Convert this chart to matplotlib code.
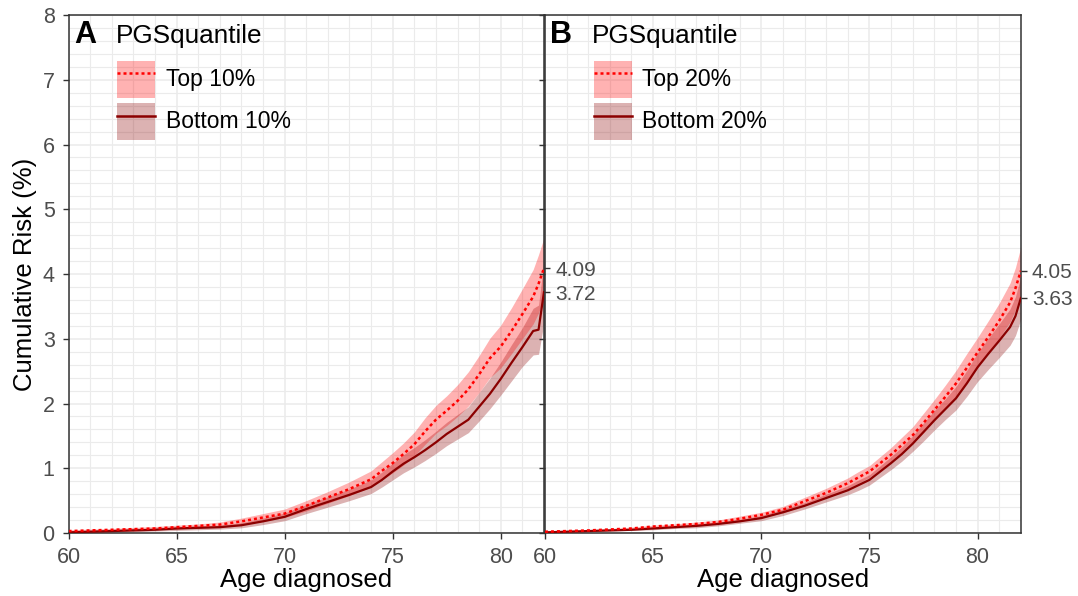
import numpy as np
import matplotlib
matplotlib.use('Agg')
from matplotlib import pyplot as plt
from matplotlib.patches import Patch
from matplotlib.lines import Line2D
from matplotlib.ticker import MultipleLocator

plt.rcParams['font.family'] = ['Liberation Sans', 'DejaVu Sans']

age = [60, 62, 64, 65, 66, 67, 68, 69, 70, 71, 72, 73, 74, 74.5, 75, 75.5, 76,
       76.5, 77, 77.5, 78, 78.5, 79, 79.5, 80, 80.5, 81, 81.5, 81.75, 82]

# panel A: top 10% vs bottom 10%
a_top = [0.03, 0.05, 0.07, 0.09, 0.11, 0.13, 0.18, 0.24, 0.30, 0.42, 0.55, 0.68, 0.83, 0.96, 1.08,
         1.22, 1.37, 1.57, 1.75, 1.89, 2.04, 2.22, 2.45, 2.70, 2.88, 3.12, 3.38, 3.65, 3.85, 4.09]
a_top_lo = [0.01, 0.03, 0.05, 0.06, 0.08, 0.09, 0.13, 0.18, 0.24, 0.34, 0.46, 0.58, 0.71, 0.82, 0.93,
            1.05, 1.19, 1.37, 1.54, 1.66, 1.80, 1.96, 2.17, 2.40, 2.55, 2.77, 3.00, 3.23, 3.40, 3.62]
a_top_hi = [0.05, 0.07, 0.10, 0.12, 0.14, 0.17, 0.23, 0.30, 0.37, 0.50, 0.64, 0.79, 0.96, 1.10, 1.24,
            1.39, 1.56, 1.78, 1.97, 2.12, 2.29, 2.49, 2.74, 3.01, 3.21, 3.48, 3.77, 4.07, 4.30, 4.56]
a_bot = [0.01, 0.03, 0.05, 0.07, 0.08, 0.09, 0.12, 0.18, 0.25, 0.37, 0.48, 0.59, 0.71, 0.82, 0.95,
         1.07, 1.17, 1.28, 1.40, 1.53, 1.64, 1.75, 1.95, 2.15, 2.38, 2.63, 2.87, 3.12, 3.14, 3.72]
a_bot_lo = [0.00, 0.01, 0.03, 0.04, 0.05, 0.06, 0.08, 0.13, 0.19, 0.30, 0.40, 0.50, 0.61, 0.71, 0.82,
            0.93, 1.02, 1.12, 1.23, 1.35, 1.45, 1.55, 1.73, 1.92, 2.13, 2.35, 2.57, 2.75, 2.76, 3.25]
a_bot_hi = [0.03, 0.05, 0.07, 0.09, 0.11, 0.12, 0.16, 0.23, 0.31, 0.44, 0.56, 0.68, 0.82, 0.94, 1.08,
            1.21, 1.32, 1.44, 1.57, 1.71, 1.83, 1.95, 2.17, 2.39, 2.64, 2.91, 3.17, 3.47, 3.52, 4.20]

# panel B: top 20% vs bottom 20%
b_top = [0.02, 0.04, 0.07, 0.10, 0.12, 0.14, 0.17, 0.22, 0.28, 0.36, 0.49, 0.62, 0.77, 0.86, 0.95,
         1.08, 1.21, 1.36, 1.51, 1.70, 1.90, 2.10, 2.31, 2.55, 2.79, 3.03, 3.28, 3.56, 3.78, 4.05]
b_top_lo = [0.01, 0.03, 0.05, 0.08, 0.10, 0.11, 0.14, 0.18, 0.24, 0.31, 0.43, 0.55, 0.69, 0.77, 0.86,
            0.98, 1.10, 1.24, 1.38, 1.55, 1.74, 1.92, 2.11, 2.33, 2.56, 2.78, 3.01, 3.26, 3.45, 3.68]
b_top_hi = [0.03, 0.05, 0.09, 0.12, 0.14, 0.17, 0.20, 0.26, 0.32, 0.41, 0.55, 0.69, 0.85, 0.95, 1.04,
            1.18, 1.32, 1.48, 1.64, 1.85, 2.06, 2.28, 2.51, 2.77, 3.02, 3.28, 3.55, 3.86, 4.10, 4.42]
b_bot = [0.01, 0.03, 0.05, 0.07, 0.09, 0.11, 0.14, 0.18, 0.23, 0.32, 0.42, 0.54, 0.66, 0.74, 0.82,
         0.95, 1.08, 1.22, 1.38, 1.56, 1.74, 1.91, 2.08, 2.31, 2.56, 2.77, 2.97, 3.18, 3.35, 3.63]
b_bot_lo = [0.00, 0.02, 0.04, 0.05, 0.07, 0.08, 0.11, 0.15, 0.19, 0.27, 0.37, 0.48, 0.59, 0.66, 0.74,
            0.86, 0.98, 1.11, 1.26, 1.42, 1.59, 1.75, 1.90, 2.11, 2.34, 2.53, 2.71, 2.90, 3.05, 3.30]
b_bot_hi = [0.02, 0.04, 0.06, 0.09, 0.11, 0.14, 0.17, 0.21, 0.27, 0.37, 0.47, 0.60, 0.73, 0.82, 0.90,
            1.04, 1.18, 1.33, 1.50, 1.70, 1.89, 2.07, 2.26, 2.51, 2.78, 3.01, 3.23, 3.46, 3.65, 3.96]

panels = [
    ('A', 'Top 10%', 'Bottom 10%', a_top, a_top_lo, a_top_hi, a_bot, a_bot_lo, a_bot_hi, [4.09, 3.72]),
    ('B', 'Top 20%', 'Bottom 20%', b_top, b_top_lo, b_top_hi, b_bot, b_bot_lo, b_bot_hi, [4.05, 3.63]),
]

fig = plt.figure(figsize=(10.78, 5.96), dpi=100)
axes = [fig.add_axes([0.0636, 0.1057, 0.4410, 0.8691]),
        fig.add_axes([0.5055, 0.1057, 0.4415, 0.8691])]

edge = '#333333'
txt = '#4D4D4D'

for i, (ax, p) in enumerate(zip(axes, panels)):
    tag, lab_top, lab_bot, top, top_lo, top_hi, bot, bot_lo, bot_hi, ends = p

    ax.fill_between(age, bot_lo, bot_hi, color='darkred', alpha=0.3, lw=0, zorder=2)
    ax.fill_between(age, top_lo, top_hi, color='red', alpha=0.3, lw=0, zorder=2)
    ax.plot(age, bot, color='darkred', lw=1.6, zorder=3)
    ax.plot(age, top, color='red', lw=1.8, dashes=(1.2, 1.2), zorder=4)

    ax.set_xlim(60, 82)
    ax.set_ylim(0, 8)
    ax.xaxis.set_major_locator(MultipleLocator(5))
    ax.xaxis.set_minor_locator(MultipleLocator(1))
    ax.yaxis.set_major_locator(MultipleLocator(1))
    ax.yaxis.set_minor_locator(MultipleLocator(0.2))
    ax.grid(True, which='major', color='#EBEBEB', lw=1.1, zorder=0)
    ax.grid(True, which='minor', color='#EBEBEB', lw=0.8, zorder=0)
    ax.set_axisbelow(True)
    ax.tick_params(which='minor', length=0)
    ax.tick_params(which='major', length=4, width=1, color=edge, labelsize=15.5,
                   labelcolor=txt, pad=6)
    for s in ax.spines.values():
        s.set_color(edge)
        s.set_linewidth(1.1)
    if i == 1:
        ax.set_yticklabels([])
    else:
        ax.set_ylabel('Cumulative Risk (%)', fontsize=18.5, labelpad=4)
    ax.set_xlabel('Age diagnosed', fontsize=18.5, labelpad=0)

    # end-point labels on the right side
    ax2 = ax.twinx()
    ax2.set_ylim(0, 8)
    ax2.set_yticks(ends)
    ax2.set_yticklabels(['%.2f' % v for v in ends])
    ax2.tick_params(length=4, width=1, color=edge, labelsize=15, labelcolor=txt, pad=4)
    for s in ax2.spines.values():
        s.set_visible(False)

    ax.text(0.011, 0.946, tag, transform=ax.transAxes, fontsize=22, fontweight='bold',
            va='baseline', ha='left', zorder=6)
    ax.text(0.099, 0.946, 'PGSquantile', transform=ax.transAxes, fontsize=18.8,
            va='baseline', ha='left', zorder=6)
    handles = [(Patch(facecolor='red', alpha=0.3, edgecolor='none'),
                Line2D([], [], color='red', lw=1.8, dashes=(1.2, 1.2))),
               (Patch(facecolor='darkred', alpha=0.3, edgecolor='none'),
                Line2D([], [], color='darkred', lw=1.8))]
    ax.legend(handles, [lab_top, lab_bot], loc='upper left',
              bbox_to_anchor=(0.1026, 0.912), frameon=False, fontsize=16.5,
              handlelength=1.66, handleheight=2.11, handletextpad=0.45,
              labelspacing=0.22, borderaxespad=0, borderpad=0)

fig.savefig('out.png', dpi=100)
